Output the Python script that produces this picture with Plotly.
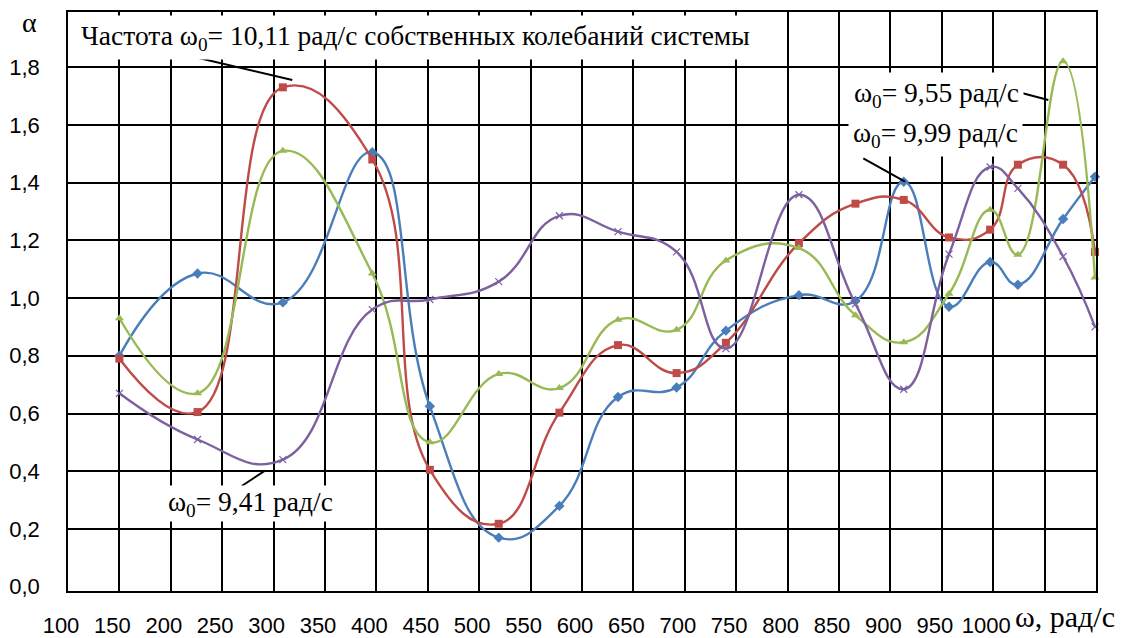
import plotly.graph_objects as go

# ---- data ----
omega = [150, 226, 309, 396, 452, 519, 578, 635, 692, 740, 811, 866, 913, 957, 997, 1024, 1068, 1099]

alpha_blue = [0.80, 1.085, 0.985, 1.505, 0.625, 0.17, 0.28, 0.657, 0.69, 0.887, 1.01, 0.99, 1.403, 0.97, 1.125, 1.046, 1.274, 1.42]
alpha_red = [0.79, 0.605, 1.73, 1.48, 0.405, 0.218, 0.603, 0.837, 0.74, 0.845, 1.19, 1.327, 1.34, 1.21, 1.237, 1.462, 1.462, 1.16]
alpha_green = [0.93, 0.67, 1.51, 1.085, 0.50, 0.737, 0.688, 0.925, 0.89, 1.13, 1.173, 0.94, 0.847, 1.015, 1.306, 1.15, 1.82, 1.071]
alpha_purple = [0.67, 0.51, 0.44, 0.96, 0.995, 1.057, 1.285, 1.23, 1.16, 0.825, 1.358, 0.98, 0.684, 1.152, 1.454, 1.38, 1.144, 0.90]

x_tick_vals = [100, 150, 200, 250, 300, 350, 400, 450, 500, 550, 600, 650, 700, 750, 800, 850, 900, 950, 1000, 1050]
x_tick_text = ["100", "150", "200", "250", "300", "350", "400", "450", "500", "550", "600",
               "650", "700", "750", "800", "850", "900", "950", "1000", ""]
y_tick_vals = [0.0, 0.2, 0.4, 0.6, 0.8, 1.0, 1.2, 1.4, 1.6, 1.8]
y_tick_text = ["0,0", "0,2", "0,4", "0,6", "0,8", "1,0", "1,2", "1,4", "1,6", "1,8"]

series = [
    ("blue", alpha_blue, "#4a7ebb", dict(symbol="diamond", size=8)),
    ("red", alpha_red, "#be4b48", dict(symbol="square", size=8)),
    ("green", alpha_green, "#98b954", dict(symbol="triangle-up", size=8)),
    ("purple", alpha_purple, "#7d60a0", dict(symbol="x-thin-open", size=7, line=dict(width=1.2))),
]

# page body has an 8px margin: lay out in page pixels, then shift
OFF = 8
W, H = 1129 - OFF, 638 - OFF
PL, PR, PT, PB = 68, 1096, 12, 591          # plot area in page pixels
ML, MT = PL - OFF, PT - OFF
PW, PH = PR - PL, PB - PT
MR, MB = W - ML - PW, H - MT - PH


def px(x):
    return (x - PL) / PW


def py(y):
    return (PB - y) / PH


fig = go.Figure()
for name, vals, col, mk in series:
    m = dict(color=col, **{k: v for k, v in mk.items() if k != "line"})
    if "line" in mk:
        m["line"] = dict(color=col, width=mk["line"]["width"])
    fig.add_trace(go.Scatter(
        x=omega, y=vals, mode="lines+markers", name=name,
        line=dict(color=col, width=2.4, shape="spline", smoothing=1.3),
        marker=m, cliponaxis=False, showlegend=False,
    ))

serif = "Liberation Serif, Times New Roman, serif"
sans = "Liberation Sans, Arial, sans-serif"

annotations = [
    dict(text="Частота ω<sub>0</sub>= 10,11 рад/с собственных колебаний системы",
         x=px(76), y=py(37), xanchor="left", yanchor="middle", font=dict(size=27.5, family=serif, color="black"),
         bgcolor="white", borderpad=4),
    dict(text="ω<sub>0</sub>= 9,41 рад/с", x=px(167), y=py(503), xanchor="left", yanchor="middle",
         font=dict(size=27.5, family=serif, color="black"), bgcolor="white", borderpad=0),
    dict(text="ω<sub>0</sub>= 9,99 рад/с", x=px(848), y=py(135), xanchor="left", yanchor="middle",
         font=dict(size=27.5, family=serif, color="black"), bgcolor="white", borderpad=4),
    dict(text="ω<sub>0</sub>= 9,55 рад/с", x=px(849), y=py(94), xanchor="left", yanchor="middle",
         font=dict(size=27.5, family=serif, color="black"), bgcolor="white", borderpad=4),
    dict(text="α", x=px(29.5), y=py(22), xanchor="center", yanchor="middle",
         font=dict(size=28, family=serif, color="black")),
    dict(text="ω, рад/с", x=px(1013), y=py(616), xanchor="left", yanchor="middle",
         font=dict(size=30, family=serif, color="black")),
]
for a in annotations:
    a.update(xref="paper", yref="paper", showarrow=False)

leaders = [
    ((181.7, 54), (292.3, 80)),
    ((241.7, 486), (265, 470.7)),
    ((1022.7, 93.3), (1048.3, 100)),
    ((863.3, 158.3), (905, 181.7)),
]
shapes = [dict(type="line", xref="paper", yref="paper", x0=px(a[0]), y0=py(a[1]), x1=px(b[0]), y1=py(b[1]),
               line=dict(color="black", width=2)) for a, b in leaders]

fig.update_layout(
    width=W, height=H, margin=dict(l=ML, r=MR, t=MT, b=MB, autoexpand=False),
    paper_bgcolor="white", plot_bgcolor="white",
    annotations=annotations, shapes=shapes,
    font=dict(family=sans, size=22, color="black"),
)
fig.update_xaxes(
    range=[100, 1100], tickmode="array", tickvals=x_tick_vals, ticktext=x_tick_text,
    showgrid=True, gridcolor="black", gridwidth=1.5, zeroline=False,
    showline=True, mirror=True, linecolor="black", linewidth=1.5, ticks="",
    tickfont=dict(family=sans, size=22, color="black"), ticklabelshift=-7, ticklabelstandoff=14,
)
fig.update_yaxes(
    range=[-0.0149, 1.991], tickmode="array", tickvals=y_tick_vals, ticktext=y_tick_text,
    showgrid=False, zeroline=False,
    minor=dict(tickmode="array", tickvals=y_tick_vals[1:], showgrid=True, gridcolor="black", gridwidth=1.5, ticks=""),
    showline=True, mirror=True, linecolor="black", linewidth=1.5, ticks="",
    tickfont=dict(family=sans, size=22, color="black"), ticklabelstandoff=22,
)

fig.write_html("out.html")
